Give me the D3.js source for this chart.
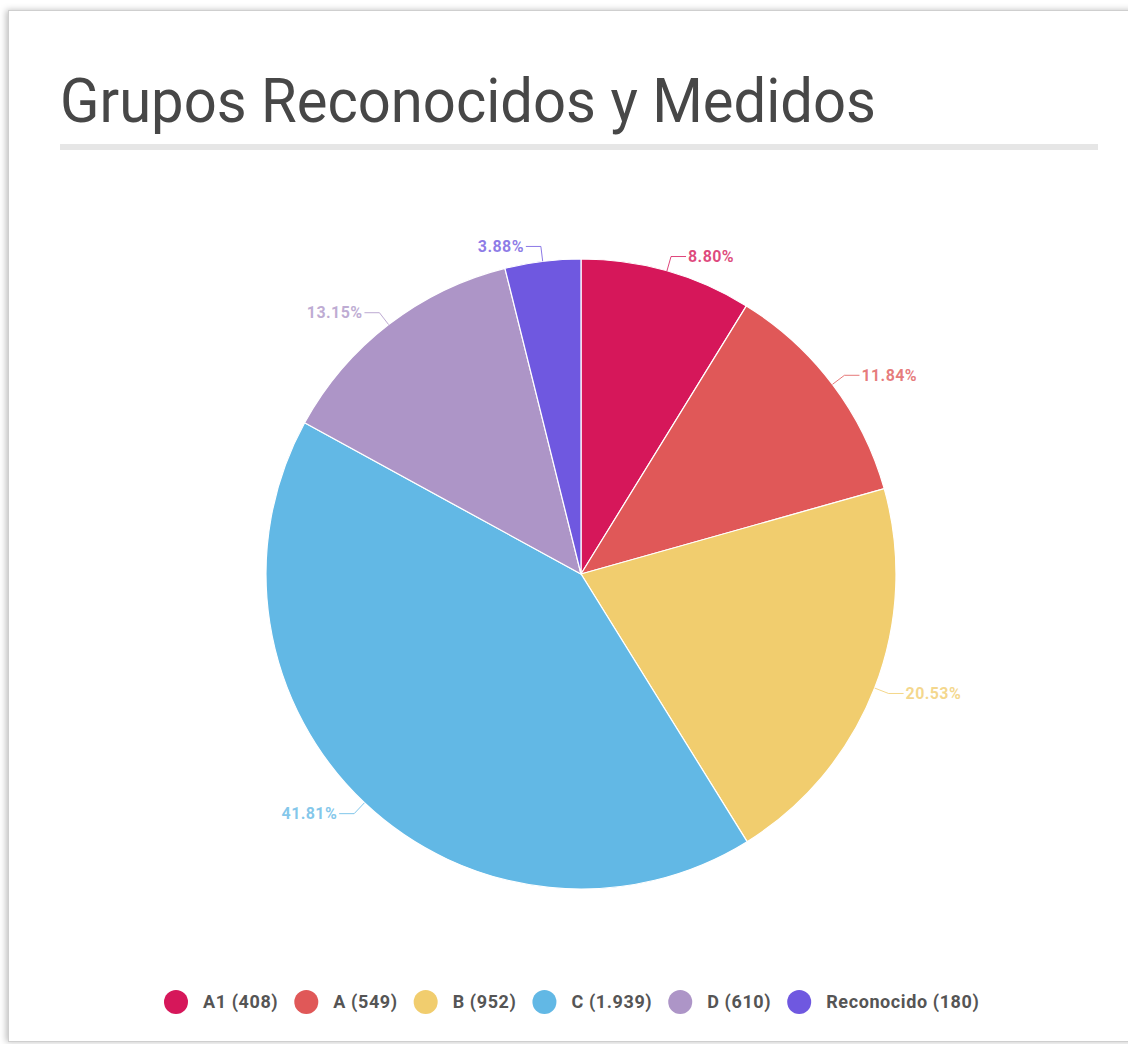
<!DOCTYPE html>
<html>
<head>
<meta charset="utf-8">
<script src="https://cdn.jsdelivr.net/npm/d3@7"></script>
<style>
  html, body { margin: 0; padding: 0; background: #ffffff; }
  svg { display: block; font-family: Roboto, "Noto Sans", sans-serif; }
</style>
</head>
<body>
<svg id="chart" width="1128" height="1044"></svg>
<script>
const categories = ["A1", "A", "B", "C", "D", "Reconocido"];
const values = [408, 549, 952, 1939, 610, 180];
const valueLabels = ["408", "549", "952", "1.939", "610", "180"];
const colors = ["#d6175a", "#e05858", "#f1cd6e", "#62b8e5", "#ad95c7", "#6f58e0"];
const title = "Grupos Reconocidos y Medidos";

const svg = d3.select("#chart");

// card with shadow
const defs = svg.append("defs");
const f = defs.append("filter").attr("id", "shadow").attr("x", "-5%").attr("y", "-5%").attr("width", "110%").attr("height", "110%");
f.append("feDropShadow").attr("dx", -2).attr("dy", 0).attr("stdDeviation", 3).attr("flood-color", "#000").attr("flood-opacity", 0.25);
svg.append("rect").attr("x", 8.5).attr("y", 10.5).attr("width", 1140).attr("height", 1031)
  .attr("fill", "#fff").attr("stroke", "#cfcfcf").attr("stroke-width", 1).attr("filter", "url(#shadow)");

// title
svg.append("text").attr("x", 60).attr("y", 122)
  .attr("font-size", 62).attr("fill", "#474747")
  .attr("textLength", 816).attr("lengthAdjust", "spacingAndGlyphs")
  .text(title);
svg.append("rect").attr("x", 60).attr("y", 144).attr("width", 1038).attr("height", 6).attr("fill", "#e6e6e6");

// pie
const cx = 581, cy = 574, r = 315;
const total = d3.sum(values);
const data = categories.map((c, i) => ({ cat: c, value: values[i], color: colors[i], label: valueLabels[i] }));
const pie = d3.pie().value(d => d.value).sort(null);
const arcs = pie(data);
const arc = d3.arc().innerRadius(0).outerRadius(r);

const g = svg.append("g").attr("transform", `translate(${cx},${cy})`);
g.selectAll("path.slice").data(arcs).join("path")
  .attr("class", "slice")
  .attr("d", arc)
  .attr("fill", d => d.data.color)
  .attr("stroke", "#ffffff").attr("stroke-width", 1.2);

// labels with elbow connectors
const fmt = v => (v / total * 100).toFixed(2) + "%";
arcs.forEach(a => {
  const mid = (a.startAngle + a.endAngle) / 2;
  const sx = Math.sin(mid), sy = -Math.cos(mid);
  const p0 = [r * sx, r * sy];
  const p1 = [(r + 15) * sx, (r + 15) * sy];
  const right = sx >= 0;
  const p2 = [p1[0] + (right ? 15 : -15), p1[1]];
  g.append("path")
    .attr("d", d3.line()([p0, p1, p2]))
    .attr("fill", "none").attr("stroke", a.data.color).attr("stroke-width", 1).attr("stroke-opacity", 0.8);
  g.append("text")
    .attr("x", p2[0] + (right ? 2 : -2)).attr("y", p1[1])
    .attr("dy", "0.35em")
    .attr("text-anchor", right ? "start" : "end")
    .attr("font-size", 16).attr("font-weight", "bold").attr("letter-spacing", 0.4)
    .attr("fill", a.data.color).attr("fill-opacity", 0.78)
    .text(fmt(a.data.value));
});

// legend
const legendY = 1002;
const lg = svg.append("g");
const items = [];
data.forEach(d => {
  const it = lg.append("g");
  it.append("circle").attr("cx", 0).attr("cy", legendY).attr("r", 12).attr("fill", d.color);
  const t = it.append("text").attr("x", 27).attr("y", legendY).attr("dy", "0.35em")
    .attr("font-size", 18).attr("font-weight", "bold").attr("letter-spacing", 0.6).attr("fill", "#555")
    .text(`${d.cat} (${d.label})`);
  const w = t.node().getComputedTextLength();
  items.push({ it, w });
});
let cur = 176;
items.forEach(({ it, w }) => {
  it.attr("transform", `translate(${cur},0)`);
  cur += 27 + w + 28;
});
</script>
</body>
</html>
